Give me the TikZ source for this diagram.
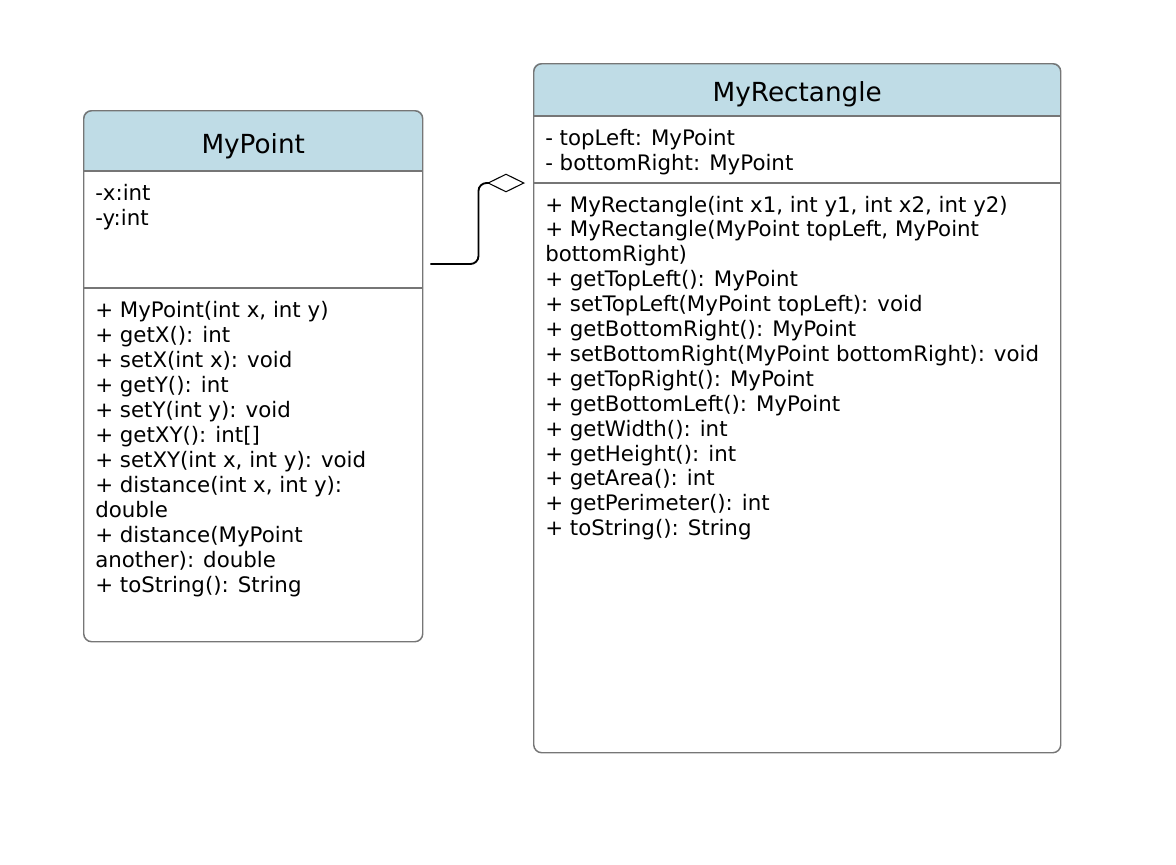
\documentclass[tikz,border=0pt]{standalone}
\usepackage{fontspec}
\setmainfont{DejaVu Sans}
\usetikzlibrary{arrows.meta, calc, positioning, backgrounds}
\definecolor{headblue}{RGB}{191,220,230}
\definecolor{boxgray}{RGB}{118,118,118}

\begin{document}
\begin{tikzpicture}[
    x=0.75pt, y=-0.75pt,
    % Styles
    class_box/.style={draw=boxgray, line width=1.1pt, rounded corners=6pt, inner sep=0pt, anchor=north west},
    head_text/.style={font=\fontsize{19.7}{23}\selectfont, anchor=base, inner sep=0pt},
    member_text/.style={font=\fontsize{16}{18.75}\selectfont, anchor=base west, inner sep=0pt},
    sep_line/.style={draw=boxgray, line width=1.1pt},
    aggregation/.style={draw=black, line width=1.4pt, rounded corners=6pt,
        -{Diamond[open, length=28.5pt, width=14pt, line width=0.8pt]}}
]
\useasboundingbox (0,0) rectangle (1176,864);

% 1. Class boxes
\node[class_box, minimum width=254.25pt, minimum height=398.25pt] (point) at (83,110) {};
\node[class_box, minimum width=395.25pt, minimum height=516.75pt] (rect) at (533,63) {};

% Header fills
\begin{scope}[on background layer]
    \begin{scope}
        \clip[rounded corners=6pt] (point.north west) rectangle (point.south east);
        \fill[headblue] (point.north west) rectangle ($(point.north east)+(0,61)$);
    \end{scope}
    \begin{scope}
        \clip[rounded corners=6pt] (rect.north west) rectangle (rect.south east);
        \fill[headblue] (rect.north west) rectangle ($(rect.north east)+(0,53)$);
    \end{scope}
\end{scope}

% Compartment lines
\draw[sep_line] ($(point.north west)+(0,61)$) -- ($(point.north east)+(0,61)$);
\draw[sep_line] ($(point.north west)+(0,178)$) -- ($(point.north east)+(0,178)$);
\draw[sep_line] ($(rect.north west)+(0,53)$) -- ($(rect.north east)+(0,53)$);
\draw[sep_line] ($(rect.north west)+(0,120)$) -- ($(rect.north east)+(0,120)$);

% 2. Class names
\node[head_text] (point_title) at ($(point.north)+(0,43)$) {MyPoint};
\node[head_text] (rect_title) at ($(rect.north)+(0,38.5)$) {MyRectangle};

% 3. MyPoint members
\foreach \i/\txt in {0/-x:int, 1/-y:int}
    \node[member_text] (point_attr\i) at ($(point.north west)+(12,90+25*\i)$) {\txt};

\foreach \i/\txt in {0/{+ MyPoint(int x, int y)}, 1/{+ getX(): int}, 2/{+ setX(int x): void},
    3/{+ getY(): int}, 4/{+ setY(int y): void}, 5/{+ getXY(): int[]},
    6/{+ setXY(int x, int y): void}, 7/{+ distance(int x, int y):}, 8/{double},
    9/{+ distance(MyPoint}, 10/{another): double}, 11/{+ toString(): String}}
    \node[member_text] (point_op\i) at ($(point.north west)+(12,207+25*\i)$) {\txt};

% 4. MyRectangle members
\foreach \i/\txt in {0/{- topLeft: MyPoint}, 1/{- bottomRight: MyPoint}}
    \node[member_text] (rect_attr\i) at ($(rect.north west)+(12,82+25*\i)$) {\txt};

\foreach \i/\txt in {0/{+ MyRectangle(int x1, int y1, int x2, int y2)},
    1/{+ MyRectangle(MyPoint topLeft, MyPoint}, 2/{bottomRight)},
    3/{+ getTopLeft(): MyPoint}, 4/{+ setTopLeft(MyPoint topLeft): void},
    5/{+ getBottomRight(): MyPoint}, 6/{+ setBottomRight(MyPoint bottomRight): void},
    7/{+ getTopRight(): MyPoint}, 8/{+ getBottomLeft(): MyPoint},
    9/{+ getWidth(): int}, 10/{+ getHeight(): int}, 11/{+ getArea(): int},
    12/{+ getPerimeter(): int}, 13/{+ toString(): String}}
    \node[member_text] (rect_op\i) at ($(rect.north west)+(12,149+24.9*\i)$) {\txt};

% 5. Aggregation
\coordinate (agg_start) at ($(point.north east)+(7,154)$);
\coordinate (agg_end) at ($(rect.north west)+(-8,120)$);
\draw[aggregation] (agg_start) -- ($(agg_start)+(48,0)$) |- (agg_end);

\end{tikzpicture}
\end{document}
